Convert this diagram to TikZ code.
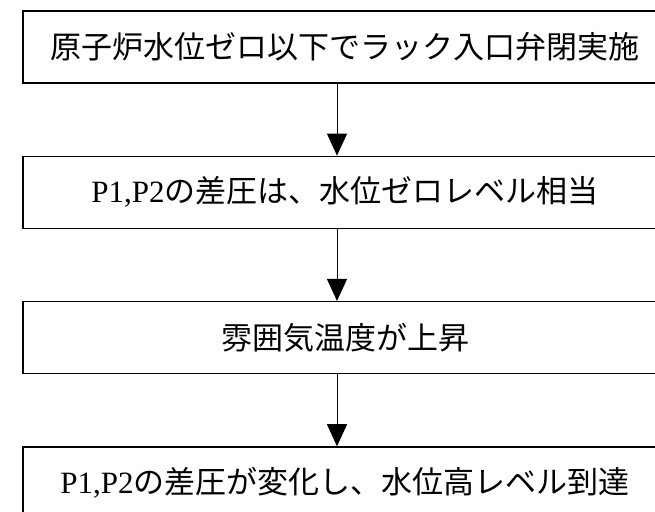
\documentclass[tikz,border=0pt]{standalone}
\usepackage{fontspec}
\setmainfont{Liberation Serif}
\newfontfamily\jpfont{Noto Sans CJK JP}
\usepackage{tikz}
\usetikzlibrary{positioning, arrows.meta}

\begin{document}
\begin{tikzpicture}[x=1pt, y=1pt,
        stepbox/.style={draw, line width=1.3pt, minimum width=644pt, minimum height=72pt,
            inner sep=0pt, font=\fontsize{31}{37}\selectfont},
        flow/.style={line width=1pt, -{Triangle[length=22pt, width=20pt]}}]
        \useasboundingbox (0,0) rectangle (655,511);
        \clip (0,0) rectangle (655,511);
        \node[stepbox] (close) at (345,464) {\jpfont 原子炉水位ゼロ以下でラック入口弁閉実施};
        \node[stepbox, below=72pt of close] (zero) {P1,P2{\jpfont の差圧は、水位ゼロレベル相当}};
        \node[stepbox, below=72pt of zero] (temp) {\jpfont 雰囲気温度が上昇};
        \node[stepbox, below=72pt of temp] (high) {P1,P2{\jpfont の差圧が変化し、水位高レベル到達}};
        \draw[flow] ([xshift=-8pt]close.south) -- ([xshift=-8pt]zero.north);
        \draw[flow] ([xshift=-8pt]zero.south) -- ([xshift=-8pt]temp.north);
        \draw[flow] ([xshift=-8pt]temp.south) -- ([xshift=-8pt]high.north);
      \end{tikzpicture}
\end{document}
